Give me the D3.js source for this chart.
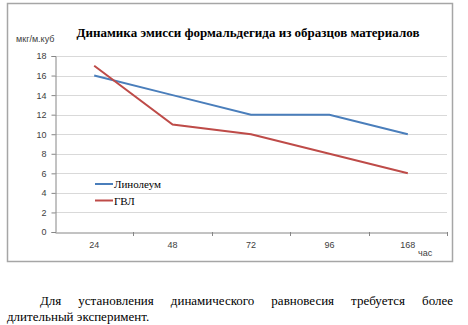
<!DOCTYPE html>
<html><head><meta charset="utf-8">
<script src="https://cdn.jsdelivr.net/npm/d3@7"></script>
<style>
body{margin:0;background:#fff;width:468px;height:325px;overflow:hidden;position:relative}
#para{position:absolute;left:7px;top:293px;width:446px;font-size:13px;font-family:"Liberation Serif","DejaVu Serif",serif;text-align:justify;text-indent:33px;line-height:16px;color:#000}
.serif{font-family:"Liberation Serif","DejaVu Serif",serif}
</style></head><body>
<svg id="chart" width="468" height="290" style="position:absolute;left:0;top:0"></svg>
<div id="para">Для установления динамического равновесия требуется более длительный эксперимент.</div>
<script>
const categories = ["24","48","72","96","168"];
const linoleum = [16,14,12,12,10];
const gvl = [17,11,10,8,6];
const yTicks = [0,2,4,6,8,10,12,14,16,18];
const seriesNames = ["Линолеум","ГВЛ"];
const colors = ["#4a7ebb","#be4b48"];

const svg = d3.select("#chart");
svg.append("rect").attr("x",7.5).attr("y",3.5).attr("width",445).attr("height",258)
  .attr("fill","#fff").attr("stroke","#a6a6a6").attr("stroke-width",1.5);

const L=55, R=447, T=56, B=232;
const x = d3.scaleBand().domain(categories).range([L,R]);
const y = d3.scaleLinear().domain([0,18]).range([B,T]);

svg.append("g").selectAll("line").data(yTicks.filter(d=>d>0)).join("line")
  .attr("x1",L).attr("x2",R).attr("y1",d=>Math.round(y(d))+0.5).attr("y2",d=>Math.round(y(d))+0.5)
  .attr("stroke","#d9d9d9").attr("stroke-width",1);

const ya = svg.append("g").attr("transform",`translate(${L+0.5},0)`)
  .call(d3.axisLeft(y).tickValues(yTicks).tickSize(4).tickPadding(5));
ya.select(".domain").attr("stroke","#868686");
ya.selectAll(".tick line").attr("stroke","#868686");
ya.selectAll(".tick text").attr("fill","#404040").style("font-family","'Liberation Sans',Arial,sans-serif").style("font-size","9px");

const xa = svg.append("g").attr("transform",`translate(0,${B+0.5})`)
  .call(d3.axisBottom(x).tickSize(0).tickPadding(9));
xa.select(".domain").attr("stroke","#868686");
xa.selectAll(".tick text").attr("fill","#404040").style("font-family","'Liberation Sans',Arial,sans-serif").style("font-size","9px");
svg.append("g").selectAll("line").data(categories.slice(1).map(c=>x(c)).concat([R])).join("line")
  .attr("x1",d=>Math.round(d)+0.5).attr("x2",d=>Math.round(d)+0.5).attr("y1",B).attr("y2",B+4)
  .attr("stroke","#868686");

const line = d3.line().x((d,i)=>x(categories[i])+x.bandwidth()/2).y(d=>y(d));
[linoleum,gvl].forEach((s,i)=>{
  svg.append("path").datum(s).attr("d",line).attr("fill","none")
    .attr("stroke",colors[i]).attr("stroke-width",2);
});

svg.append("text").attr("class","serif").attr("x",248).attr("y",37).attr("text-anchor","middle")
  .style("font-weight","bold").style("font-size","13px")
  .text("Динамика эмисси формальдегида из образцов материалов");
svg.append("text").attr("x",16).attr("y",42)
  .style("font-family","'Liberation Sans',Arial,sans-serif").style("font-size","9px").attr("fill","#404040").text("мкг/м.куб");
svg.append("text").attr("x",418).attr("y",256)
  .style("font-family","'Liberation Sans',Arial,sans-serif").style("font-size","9px").attr("fill","#404040").text("час");

const lg = svg.append("g");
seriesNames.forEach((n,i)=>{
  const yy = 184 + i*16.5;
  lg.append("line").attr("x1",95).attr("x2",113).attr("y1",yy).attr("y2",yy)
    .attr("stroke",colors[i]).attr("stroke-width",2);
  lg.append("text").attr("class","serif").attr("x",114).attr("y",yy+4)
    .style("font-size","11px").text(n);
});
</script>
</body></html>
